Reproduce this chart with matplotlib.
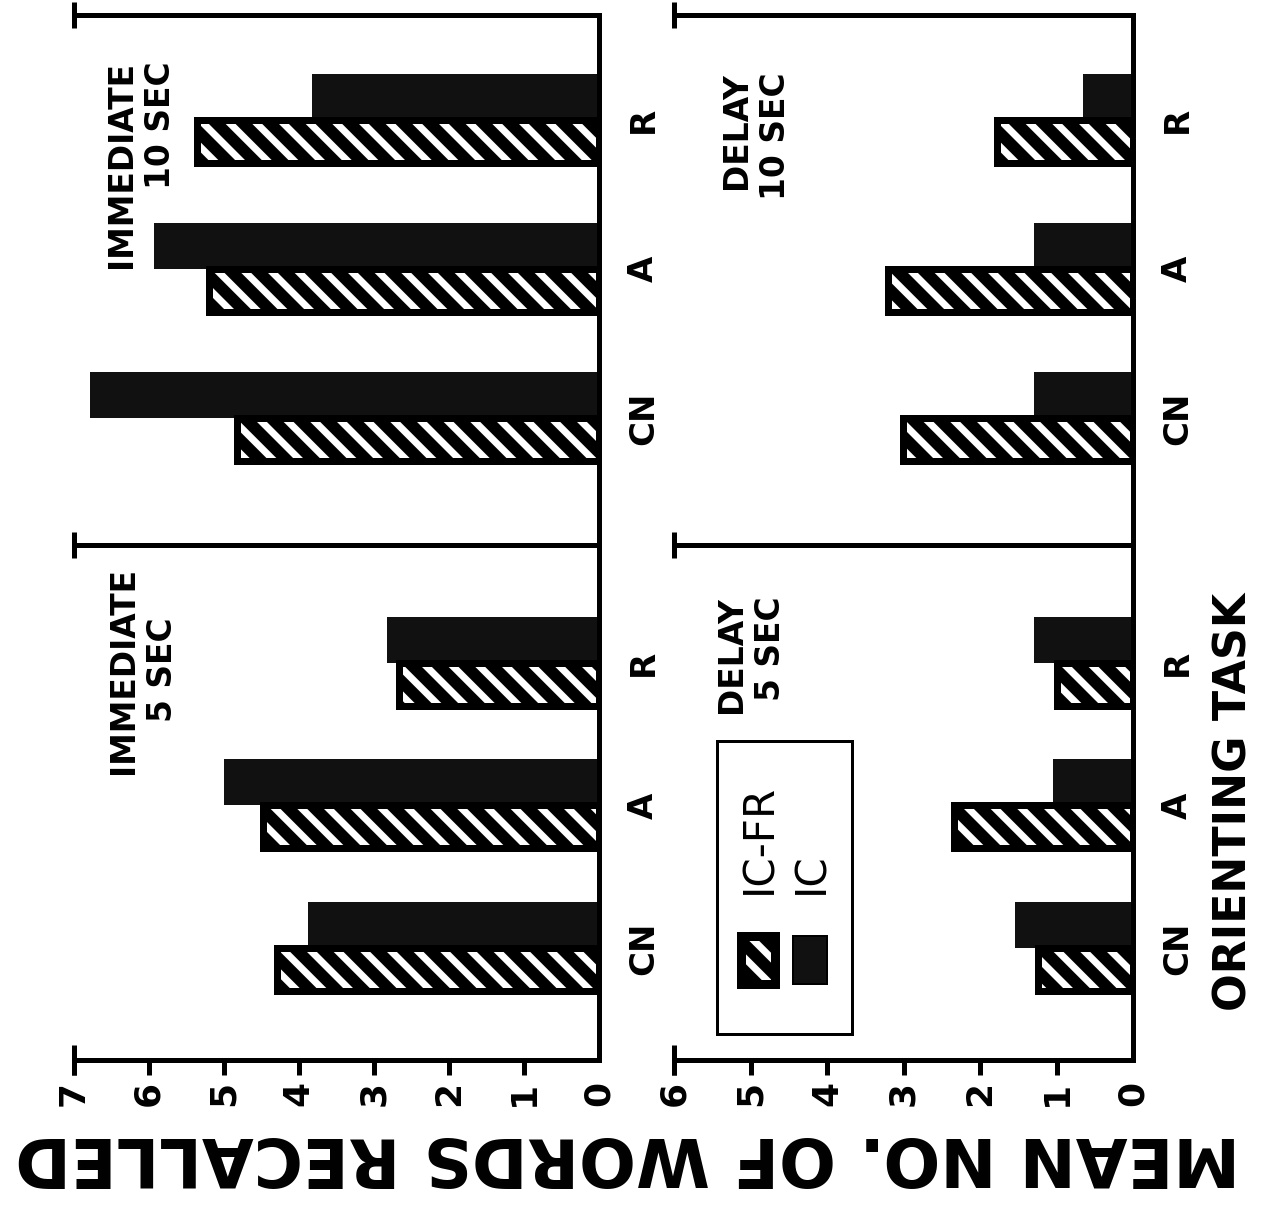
import matplotlib
matplotlib.use("Agg")
import matplotlib.pyplot as plt
from matplotlib import font_manager as fm
from matplotlib.patches import Rectangle
import numpy as np

# ---------------- data ----------------
categories = ["CN", "A", "R"]
series = ["IC-FR", "IC"]
immediate_5_icfr = [4.29, 4.47, 2.67]
immediate_5_ic = [3.87, 5.00, 2.82]
immediate_10_icfr = [4.82, 5.19, 5.36]
immediate_10_ic = [6.78, 5.93, 3.82]
delay_5_icfr = [1.24, 2.34, 1.00]
delay_5_ic = [1.54, 1.04, 1.30]
delay_10_icfr = [3.01, 3.20, 1.78]
delay_10_ic = [1.30, 1.29, 0.66]
immediate_ticks = [0, 1, 2, 3, 4, 5, 6, 7]
delay_ticks = [0, 1, 2, 3, 4, 5, 6]
title_imm_5 = "IMMEDIATE\n5 SEC"
title_imm_10 = "IMMEDIATE\n10 SEC"
title_del_5 = "DELAY\n5 SEC"
title_del_10 = "DELAY\n10 SEC"
value_label = "MEAN NO. OF WORDS RECALLED"
category_label = "ORIENTING TASK"

# ---------------- layout ----------------
DPI = 160
W, H = 1269, 1205
plt.rcParams["hatch.color"] = "white"
plt.rcParams["hatch.linewidth"] = 7 * 72 / DPI
HATCH = "\\\\"

avail = {f.name for f in fm.fontManager.ttflist}
NARROW = "Liberation Sans Narrow" if "Liberation Sans Narrow" in avail else "DejaVu Sans"
BASE = "DejaVu Sans"


def pt(px):
    return px * 72.0 / DPI


def fx(px):
    return px / W


def fy(py):
    return 1 - py / H


LW = pt(5)
fig = plt.figure(figsize=(W / DPI, H / DPI), dpi=DPI)
fig.patch.set_facecolor("white")

# column: (x of max value, x of zero, max value, ticks)
cols = {"imm": (73.5, 599, 7, immediate_ticks), "del": (674, 1133, 6, delay_ticks)}
# row: (top px, bottom px, px of first group boundary, px per category)
rows = {"10": (15, 545, 418, 149.0), "5": (545, 1060, 948, 142.5)}

panels = [
    ("imm", "10", immediate_10_icfr, immediate_10_ic),
    ("imm", "5", immediate_5_icfr, immediate_5_ic),
    ("del", "10", delay_10_icfr, delay_10_ic),
    ("del", "5", delay_5_icfr, delay_5_ic),
]

for ck, rk, icfr, ic in panels:
    x0, x1, vmax, ticks = cols[ck]
    ytop, ybot, ref, scale = rows[rk]
    ax = fig.add_axes([fx(x0), fy(ybot), fx(x1) - fx(x0), (ybot - ytop) / H])
    ax.set_facecolor("none")
    ax.set_xlim(vmax, 0)
    ax.set_ylim((ref - ybot) / scale, (ref - ytop) / scale)
    pos = np.arange(len(categories))
    hs = 46 / scale
    hh = 43 / scale
    ax.barh(pos, ic, height=hs, align="edge", color="#111111", edgecolor="none", zorder=2)
    ax.barh(pos, icfr, height=-hh, align="edge", facecolor="black", edgecolor="white",
            hatch=HATCH, linewidth=0, zorder=2)
    ax.barh(pos, icfr, height=-hh, align="edge", facecolor="none", edgecolor="black",
            linewidth=pt(7), joinstyle="miter", zorder=3)

    ax.spines["left"].set_visible(False)
    for s in ("right", "top", "bottom"):
        ax.spines[s].set_linewidth(LW)
        ax.spines[s].set_color("black")
    if rk == "10":
        ax.spines["bottom"].set_visible(False)
        ax.tick_params(axis="x", bottom=False, labelbottom=False)
        ax.plot([vmax], [ax.get_ylim()[1]], marker="|", ms=pt(26), mew=LW, color="black",
                clip_on=False, zorder=5)
        ax.plot([vmax], [ax.get_ylim()[0]], marker="|", ms=pt(26), mew=LW, color="black",
                clip_on=False, zorder=5)
    else:
        ax.set_xticks(ticks)
        ax.set_xticklabels([str(t) for t in ticks], rotation=90, fontsize=pt(36),
                           fontweight="bold", family=BASE, va="top", ha="center")
        ax.tick_params(axis="x", direction="out", length=pt(15), width=LW, pad=pt(6))
        ax.xaxis.get_major_ticks()[0].tick1line.set_visible(False)
        ax.plot([vmax], [ax.get_ylim()[0]], marker="|", ms=pt(30), mew=LW, color="black",
                clip_on=False, zorder=5)
    ax.yaxis.tick_right()
    ax.set_yticks(pos)
    ax.set_yticklabels(categories, rotation=90, fontsize=pt(34), fontweight="bold",
                       family=BASE, va="center", ha="left")
    ax.tick_params(axis="y", length=0, pad=pt(28))

# ---------------- panel titles ----------------
tkw = dict(rotation=90, fontweight="bold", family=NARROW, linespacing=1.2,
           transform=fig.transFigure, fontsize=pt(40))
t_i10 = fig.text(fx(141), fy(61), title_imm_10, ha="center", va="top", multialignment="right", **tkw)
t_i5 = fig.text(fx(143), fy(670), title_imm_5, ha="center", va="center", multialignment="center", **tkw)
t_d5 = fig.text(fx(751), fy(596), title_del_5, ha="center", va="top", multialignment="right", **tkw)
t_d10 = fig.text(fx(756), fy(72), title_del_10, ha="center", va="top", multialignment="right", **tkw)

# ---------------- legend (drawn rotated like the chart) ----------------
lx0, ly0, lx1, ly1 = 717, 741, 852, 1034
fig.add_artist(Rectangle((fx(lx0), fy(ly1)), fx(lx1) - fx(lx0), (ly1 - ly0) / H,
                         transform=fig.transFigure, fill=False, lw=pt(3), ec="black"))
leg_x = [758, 810]
for i, name in enumerate(series):
    cx = leg_x[i]
    w, top, bot = 34, 936, 984
    if i == 0:
        fig.add_artist(Rectangle((fx(cx - w / 2), fy(bot)), w / W, (bot - top) / H,
                                 transform=fig.transFigure, facecolor="black", edgecolor="white",
                                 hatch=HATCH, lw=0))
        fig.add_artist(Rectangle((fx(cx - w / 2), fy(bot)), w / W, (bot - top) / H,
                                 transform=fig.transFigure, facecolor="none", edgecolor="black",
                                 lw=pt(9)))
    else:
        fig.add_artist(Rectangle((fx(cx - w / 2), fy(bot)), w / W, (bot - top) / H,
                                 transform=fig.transFigure, facecolor="#111111", edgecolor="black",
                                 lw=pt(2)))
    fig.text(fx(cx + 1), fy(894), name, rotation=90, ha="center", va="bottom",
             fontsize=pt(42), family=BASE, transform=fig.transFigure)

# ---------------- axis titles ----------------
t_val = fig.text(fx(628), fy(1156), value_label, rotation=180, ha="center", va="center",
                 fontweight="bold", family=NARROW, fontsize=pt(90), transform=fig.transFigure)
t_cat = fig.text(fx(1234), fy(802), category_label, rotation=90, ha="center", va="center",
                 fontweight="bold", family=NARROW, fontsize=pt(70), transform=fig.transFigure)

# fit sizes to the reference extents
fig.canvas.draw()
r = fig.canvas.get_renderer()
bb = t_val.get_window_extent(r)
t_val.set_fontsize(t_val.get_fontsize() * 1225 / bb.width)
bb = t_cat.get_window_extent(r)
t_cat.set_fontsize(t_cat.get_fontsize() * 418 / bb.height)
bb = t_i10.get_window_extent(r)
f = t_i10.get_fontsize() * 208 / bb.height
for t in (t_i10, t_i5, t_d5, t_d10):
    t.set_fontsize(f)

fig.savefig("out.png", dpi=DPI, facecolor="white")
